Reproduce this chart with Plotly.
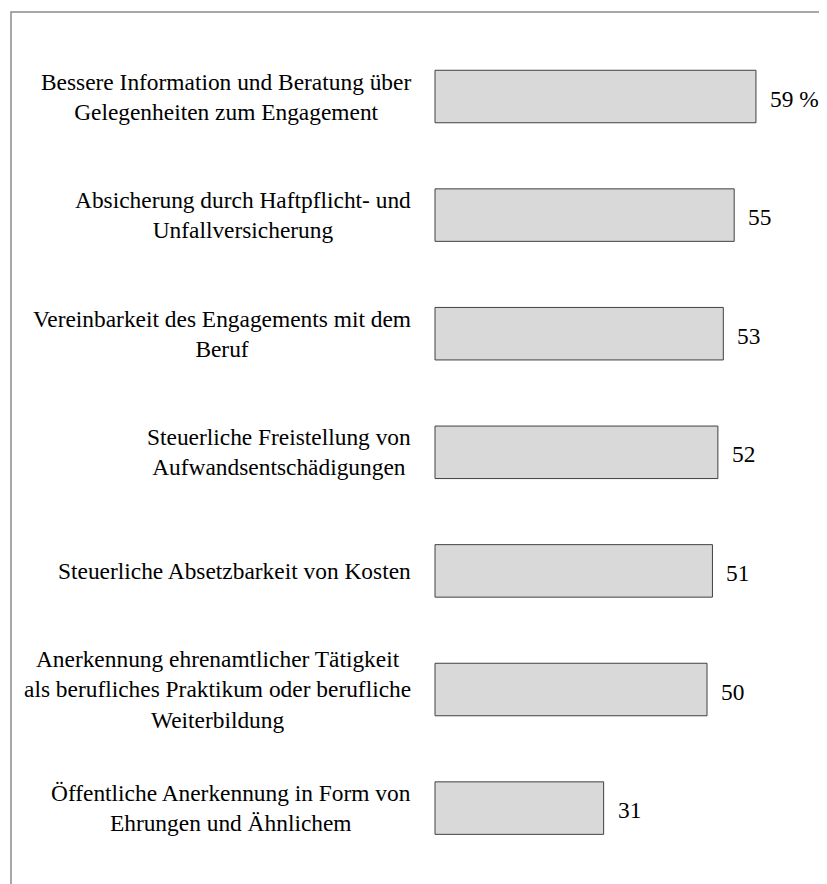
import plotly.graph_objects as go

categories = [
    "Bessere Information und Beratung über<br>Gelegenheiten zum Engagement",
    "Absicherung durch Haftpflicht- und<br>Unfallversicherung",
    "Vereinbarkeit des Engagements mit dem<br>Beruf",
    "Steuerliche Freistellung von<br>Aufwandsentschädigungen",
    "Steuerliche Absetzbarkeit von Kosten",
    "Anerkennung ehrenamtlicher Tätigkeit<br>als berufliches Praktikum oder berufliche<br>Weiterbildung",
    "Öffentliche Anerkennung in Form von<br>Ehrungen und Ähnlichem",
]
values = [59, 55, 53, 52, 51, 50, 31]
value_labels = ["59 %", "55", "53", "52", "51", "50", "31"]

W, H = 827, 884
OFF = 8  # page body margin
FONT = "Liberation Serif, Times New Roman, serif"
FS = 23.4

# pixel geometry (page coords minus body margin)
x0_px = 435.0 - OFF
px_per_unit = 5.44
y0_px = 96.5 - OFF
step_px = 118.6
bar_px = 52.5

pos = list(range(len(values)))

fig = go.Figure()
fig.add_trace(go.Bar(
    x=values, y=pos, orientation="h",
    width=bar_px / step_px,
    marker=dict(color="#d9d9d9", line=dict(color="#404040", width=1)),
    hoverinfo="skip",
))

annotations = []
for i, (cat, v, vl) in enumerate(zip(categories, values, value_labels)):
    annotations.append(dict(
        x=(413 - OFF) / W, xref="paper", y=i, yref="y",
        text=cat, showarrow=False, xanchor="right", yanchor="middle",
        align="center", font=dict(family=FONT, size=FS, color="black"),
    ))
    annotations.append(dict(
        x=v, xref="x", y=i, yref="y", xshift=12, yshift=-2,
        text=vl, showarrow=False, xanchor="left", yanchor="middle",
        align="left", font=dict(family=FONT, size=FS, color="black"),
    ))

fig.update_layout(
    width=W, height=H,
    margin=dict(l=0, r=0, t=0, b=0),
    paper_bgcolor="white", plot_bgcolor="white",
    showlegend=False,
    xaxis=dict(range=[-x0_px / px_per_unit, (W - x0_px) / px_per_unit],
               visible=False, fixedrange=True),
    yaxis=dict(range=[(H - y0_px) / step_px, -y0_px / step_px],
               visible=False, fixedrange=True),
    annotations=annotations,
    shapes=[dict(type="rect", xref="paper", yref="paper",
                 x0=(11 - OFF) / W, x1=1.05, y0=-0.1, y1=1 - (12 - OFF) / H,
                 line=dict(color="#8c8c8c", width=1.5))],
)

fig.write_html("out.html")
